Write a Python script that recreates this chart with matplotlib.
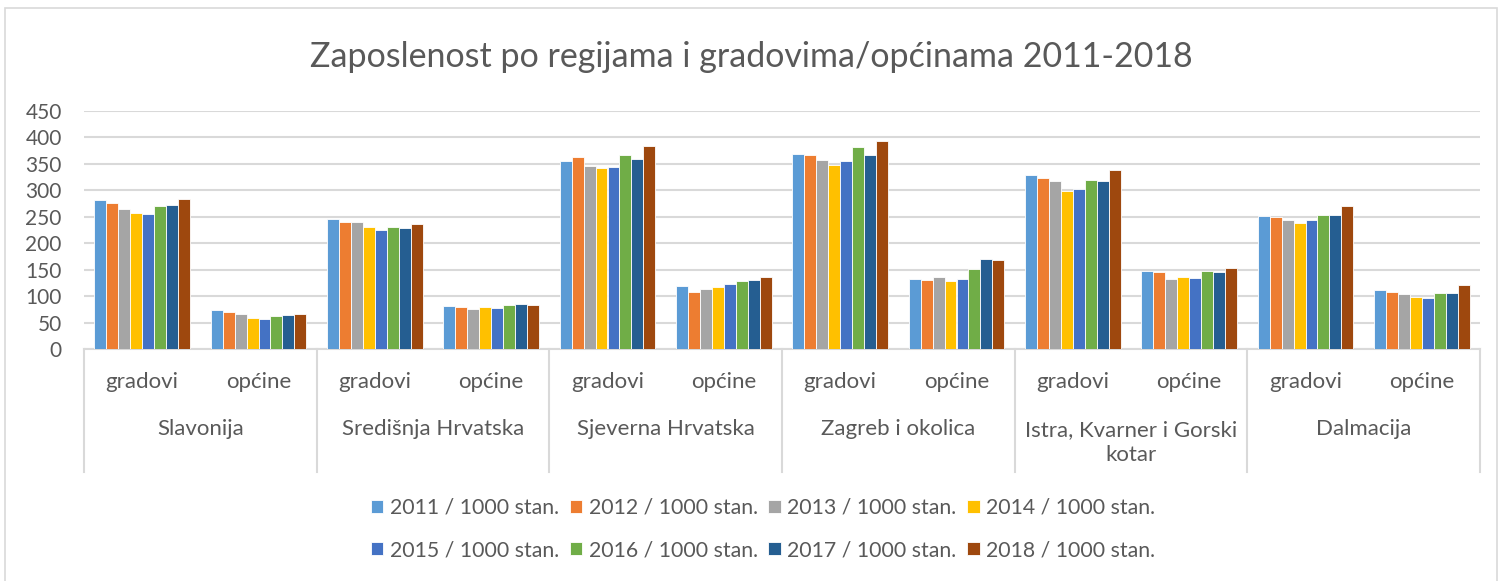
import matplotlib.pyplot as plt
import matplotlib.transforms as mtransforms
from matplotlib.patches import Rectangle
import numpy as np

plt.rcParams["font.family"] = ["Lato", "DejaVu Sans"]

regions = ["Slavonija", "Središnja Hrvatska", "Sjeverna Hrvatska",
           "Zagreb i okolica", "Istra, Kvarner i Gorski\nkotar", "Dalmacija"]
subcats = ["gradovi", "općine"]
years = ["2011", "2012", "2013", "2014", "2015", "2016", "2017", "2018"]
colors = ["#5B9BD5", "#ED7D31", "#A5A5A5", "#FFC000",
          "#4472C4", "#70AD47", "#255E91", "#9E480E"]

# rows = region/subcategory groups, columns = years 2011..2018
v_slav_grad = [281, 276, 264, 258, 255, 270, 273, 283]
v_slav_opc = [74, 71, 66, 59, 58, 62, 65, 67]
v_sred_grad = [246, 241, 240, 231, 225, 231, 228, 237]
v_sred_opc = [82, 80, 76, 80, 78, 83, 85, 83]
v_sjev_grad = [355, 362, 346, 342, 344, 366, 359, 383]
v_sjev_opc = [120, 109, 114, 117, 123, 129, 131, 136]
v_zag_grad = [369, 367, 357, 348, 355, 382, 366, 393]
v_zag_opc = [133, 131, 136, 129, 133, 151, 170, 168]
v_istra_grad = [328, 323, 317, 299, 302, 320, 318, 339]
v_istra_opc = [147, 146, 133, 136, 134, 148, 146, 153]
v_dalm_grad = [251, 249, 244, 239, 243, 254, 254, 270]
v_dalm_opc = [111, 109, 104, 99, 96, 107, 107, 121]

groups = [v_slav_grad, v_slav_opc, v_sred_grad, v_sred_opc, v_sjev_grad, v_sjev_opc,
          v_zag_grad, v_zag_opc, v_istra_grad, v_istra_opc, v_dalm_grad, v_dalm_opc]
data = np.array(groups)  # shape (12, 8)

W, H = 1503, 581
fig = plt.figure(figsize=(W / 100, H / 100), dpi=100)
ax = fig.add_axes([84 / W, 1 - 349.3 / H, (1480 - 84) / W, (349.3 - 110.7) / H])

txt = "#595959"
grid = "#D9D9D9"

n_grp, n_ser = data.shape
slot = 0.82 / n_ser
centers = np.arange(n_grp) + 0.5
for j in range(n_ser):
    x = centers - 0.41 + slot * (j + 0.5)
    ax.bar(x, data[:, j], width=slot, color=colors[j], edgecolor="white",
           linewidth=0.6, label=f"{years[j]} / 1000 stan.", zorder=3)

ax.set_xlim(0, n_grp)
ax.set_ylim(0, 450)
ax.set_yticks(np.arange(0, 451, 50))
ax.yaxis.grid(True, color=grid, linewidth=1.5, zorder=0)
ax.tick_params(axis="y", length=0, labelsize=15, labelcolor=txt, pad=16)
ax.set_xticks([])
for s in ["top", "right", "left"]:
    ax.spines[s].set_visible(False)
ax.spines["bottom"].set_color(grid)
ax.spines["bottom"].set_linewidth(1.5)

# category axis labels and separators below the plot
trans = mtransforms.blended_transform_factory(ax.transData, ax.transAxes)
for i, c in enumerate(centers):
    ax.text(c, -0.135, subcats[i % 2], transform=trans, ha="center", va="center",
            fontsize=16, color=txt)
for r, name in enumerate(regions):
    ax.text(2 * r + 1, -0.335 if "\n" not in name else -0.39, name, transform=trans,
            ha="center", va="center", fontsize=16, color=txt, linespacing=1.3)
for k in range(0, n_grp + 1, 2):
    ax.plot([k, k], [0, -0.514], transform=trans, color=grid, linewidth=1.5,
            clip_on=False)

fig.suptitle("Zaposlenost po regijama i gradovima/općinama 2011-2018",
             y=1 - 57 / H, va="center", fontsize=24.5, color=txt)

handles, labels = ax.get_legend_handles_labels()
order = [0, 4, 1, 5, 2, 6, 3, 7]
ax.legend([handles[i] for i in order], [labels[i] for i in order],
          loc="center", bbox_to_anchor=(763 / W, 1 - 529 / H),
          bbox_transform=fig.transFigure, ncol=4, frameon=False, fontsize=15.3,
          labelcolor=txt, handlelength=0.6, handleheight=0.6, handletextpad=0.3,
          columnspacing=0.5, labelspacing=1.05)

fig.patches.append(Rectangle((5 / W, -0.01), (1497 - 5) / W, 1 - 8 / H + 0.01,
                             transform=fig.transFigure, fill=False,
                             edgecolor=grid, linewidth=1.2))

fig.savefig("out.png", dpi=100, facecolor="white")
